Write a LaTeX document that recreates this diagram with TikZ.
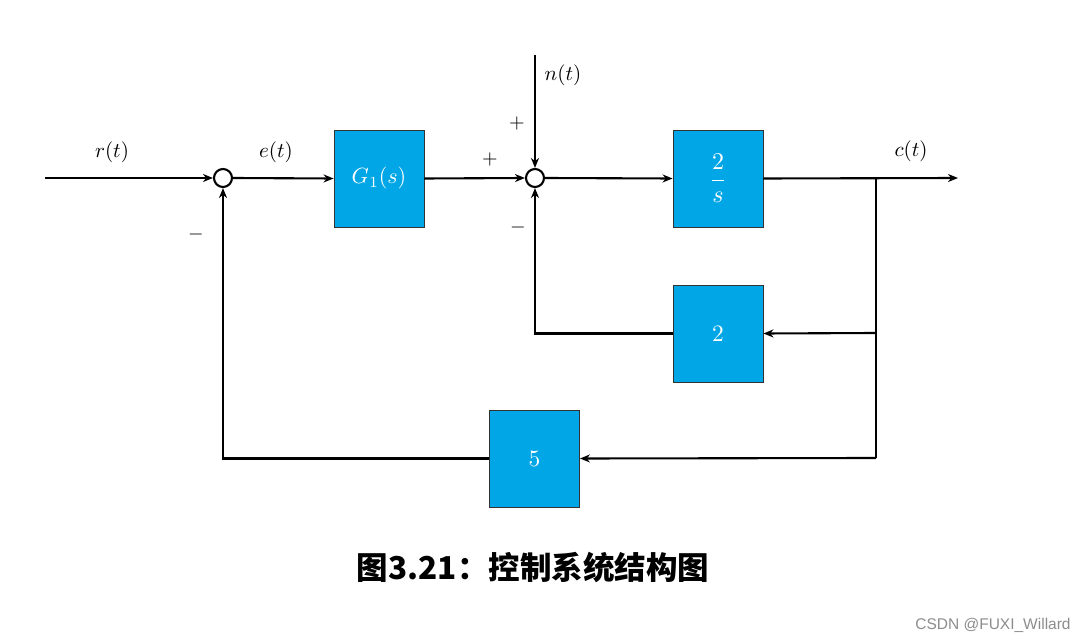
\documentclass[tikz,border=0pt]{standalone}
\usepackage{graphicx}
\usepackage{fontspec}
\newfontfamily\cjk{Noto Sans CJK SC}
\newfontfamily\wm{Liberation Sans}
\usetikzlibrary{arrows.meta}
\definecolor{boxblue}{RGB}{0,166,230}
\newcommand{\mylbl}[1]{\scalebox{2.1}{$#1$}}
\begin{document}
\begin{tikzpicture}[x=1pt,y=-1pt,
 line/.style={line width=2.1pt},
 arr/.style={line, -{Stealth[length=10pt,width=8pt]}},
 blk/.style={draw=black!80, line width=0.9pt, fill=boxblue, minimum width=90pt, minimum height=97pt, inner sep=0pt, text=white},
 sumj/.style={circle, draw, line width=2.1pt, minimum size=18pt, inner sep=0pt},
 lbl/.style={inner sep=0pt},
]
\useasboundingbox (0,0) rectangle (1088,644);
\coordinate (in) at (45,178);
\node[sumj] (s1) at (223,178) {};
\node[blk] (g1) at (379,178.5) {\scalebox{2.2}{$G_1(s)$}};
\node[sumj] (s2) at (535,178) {};
\coordinate (nin) at (535,55);
\node[blk] (g2) at (718,178.5) {\scalebox{2.4}{$\displaystyle\frac{2}{s}$}};
\coordinate (out) at (958,178);
\coordinate (br) at (876,178);
\node[blk] (h2) at (718,333.5) {\scalebox{2.35}{$2$}};
\node[blk] (h5) at (534.5,458.5) {\scalebox{2.35}{$5$}};
\coordinate (b2) at (876,333);
\coordinate (b5) at (876,458);

\draw[arr] (in) -- (s1.west);
\draw[arr] (s1.east) -- (g1.west);
\draw[arr] (g1.east) -- (s2.west);
\draw[arr] (nin) -- (s2.north);
\draw[arr] (s2.east) -- (g2.west);
\draw[arr] (g2.east) -- (out);
\draw[line] (br) -- (b5);
\draw[arr] (b2) -- (h2.east);
\draw[arr] (b5) -- (h5.east);
\draw[arr] (h2.west) -| (s2.south);
\draw[arr] (h5.west) -| (s1.south);

\node[lbl] (lr) at (112,152) {\mylbl{r(t)}};
\node[lbl] (le) at (276,152) {\mylbl{e(t)}};
\node[lbl] (ln) at (563,75) {\mylbl{n(t)}};
\node[lbl] (lc) at (911,151) {\mylbl{c(t)}};
\node[lbl] (p1) at (490,160) {\scalebox{2}{$+$}};
\node[lbl] (p2) at (517,124) {\scalebox{2}{$+$}};
\node[lbl] (m2) at (518,228) {\scalebox{2}{$-$}};
\node[lbl] (m1) at (196,235) {\scalebox{2}{$-$}};

\node[inner sep=0pt, font=\cjk\bfseries\fontsize{31.5}{32}\selectfont] (cap) at (533,567) {图3.21：控制系统结构图};
\node[inner sep=0pt, text=black!45, font=\wm\fontsize{15.5}{16}\selectfont] (wmk) at (993,625) {CSDN @FUXI\_Willard};
\end{tikzpicture}
\end{document}
